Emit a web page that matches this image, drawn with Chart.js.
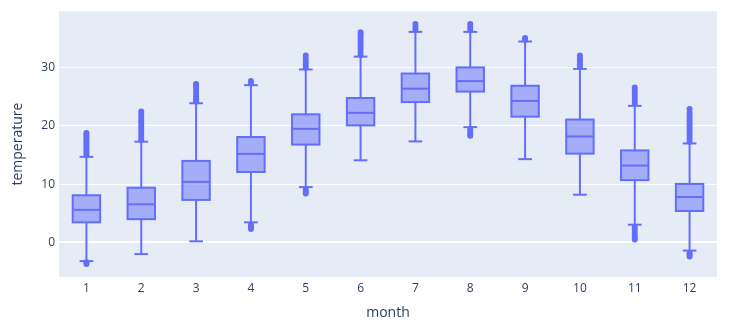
<!DOCTYPE html>
<html>
<head>
<meta charset="utf-8">
<script src="https://cdn.jsdelivr.net/npm/chart.js@4"></script>
<style>
  html, body { margin: 0; padding: 0; background: #fff; }
  #wrap { width: 747px; height: 329px; }
</style>
</head>
<body>
<div id="wrap"><canvas id="chart"></canvas></div>
<script>
// temperature distribution by month
const months = ['1', '2', '3', '4', '5', '6', '7', '8', '9', '10', '11', '12'];
const q1 = [3.45, 4.0, 7.3, 12.1, 16.8, 20.1, 24.1, 25.9, 21.6, 15.25, 10.7, 5.4];
const medians = [5.6, 6.55, 10.4, 15.2, 19.5, 22.25, 26.4, 27.7, 24.3, 18.2, 13.2, 7.8];
const q3 = [8.1, 9.4, 14.0, 18.1, 22.0, 24.8, 29.0, 30.05, 26.9, 21.1, 15.8, 10.05];
const lowerFence = [-3.2, -2.0, 0.2, 3.45, 9.5, 14.1, 17.35, 19.8, 14.3, 8.2, 3.05, -1.4];
const upperFence = [14.7, 17.3, 23.9, 27.0, 29.7, 31.9, 36.15, 36.15, 34.5, 29.8, 23.45, 17.0];
const outliers = [
  [15.0, 15.4, 15.8, 16.2, 16.6, 17.0, 17.4, 17.8, 18.2, 18.5, 18.8, -3.4, -3.7],
  [17.6, 18.0, 18.5, 19.0, 19.5, 20.0, 20.5, 21.0, 21.5, 22.0, 22.5],
  [24.2, 24.6, 25.0, 25.5, 26.0, 26.5, 27.0, 27.2],
  [27.4, 27.7, 3.0, 2.6, 2.3],
  [30.0, 30.5, 31.0, 31.5, 32.1, 9.1, 8.7, 8.4],
  [32.2, 32.7, 33.2, 33.7, 34.2, 34.7, 35.2, 35.7, 36.1],
  [36.5, 37.0, 37.5],
  [36.5, 37.0, 37.5, 19.4, 19.0, 18.6, 18.3],
  [34.8, 35.1],
  [30.1, 30.6, 31.1, 31.6, 32.1],
  [23.8, 24.3, 24.8, 25.3, 25.8, 26.2, 26.6, 2.7, 2.2, 1.7, 1.2, 0.8, 0.5],
  [17.3, 17.8, 18.3, 18.8, 19.3, 19.8, 20.3, 20.8, 21.3, 21.8, 22.3, 22.9, -1.8, -2.1, -2.4]
];
const yTicks = [0, 10, 20, 30];

const BLUE = '#636efa';
const FONT = '"Open Sans", verdana, arial, sans-serif';
const TEXT = '#2a3f5f';

const outlierPoints = [];
outliers.forEach((vals, i) => vals.forEach(v => outlierPoints.push({ x: months[i], y: v })));

// plot background
const plotBg = {
  id: 'plotBg',
  beforeDraw(chart) {
    const { ctx, chartArea: a } = chart;
    ctx.save();
    ctx.fillStyle = '#E5ECF6';
    ctx.fillRect(a.left, a.top, a.right - a.left, a.bottom - a.top);
    ctx.restore();
  }
};

// box outline, whiskers, caps and median lines
const boxParts = {
  id: 'boxParts',
  afterDatasetsDraw(chart) {
    const { ctx } = chart;
    const xs = chart.scales.x, ys = chart.scales.y;
    const meta = chart.getDatasetMeta(0);
    ctx.save();
    ctx.strokeStyle = BLUE;
    ctx.lineWidth = 2;
    months.forEach((m, i) => {
      const bar = meta.data[i];
      const cx = xs.getPixelForValue(i);
      const half = bar.width / 2;
      const cap = half / 2;
      const line = (x1, y1, x2, y2) => {
        ctx.beginPath(); ctx.moveTo(x1, y1); ctx.lineTo(x2, y2); ctx.stroke();
      };
      const yq1 = ys.getPixelForValue(q1[i]);
      const yq3 = ys.getPixelForValue(q3[i]);
      const yHi = ys.getPixelForValue(upperFence[i]);
      const yLo = ys.getPixelForValue(lowerFence[i]);
      const yMed = ys.getPixelForValue(medians[i]);
      ctx.strokeRect(cx - half, yq3, half * 2, yq1 - yq3);
      line(cx, yq3, cx, yHi);
      line(cx, yq1, cx, yLo);
      line(cx - cap, yHi, cx + cap, yHi);
      line(cx - cap, yLo, cx + cap, yLo);
      line(cx - half, yMed, cx + half, yMed);
    });
    ctx.restore();
  }
};

new Chart(document.getElementById('chart'), {
  type: 'bar',
  data: {
    labels: months,
    datasets: [
      {
        label: 'box',
        data: months.map((_, i) => [q1[i], q3[i]]),
        backgroundColor: 'rgba(99,110,250,0.5)',
        borderWidth: 0,
        barPercentage: 0.5,
        categoryPercentage: 1
      },
      {
        type: 'line',
        label: 'outliers',
        data: outlierPoints,
        showLine: false,
        pointRadius: 3,
        pointBackgroundColor: BLUE,
        pointBorderWidth: 0
      }
    ]
  },
  options: {
    responsive: true,
    maintainAspectRatio: false,
    animation: false,
    layout: { padding: { top: 8, right: 30, left: 0, bottom: 0 } },
    plugins: { legend: { display: false }, tooltip: { enabled: false } },
    scales: {
      x: {
        offset: true,
        grid: { display: false, drawTicks: false },
        border: { display: false },
        ticks: { color: TEXT, font: { family: FONT, size: 12 }, padding: 4 },
        title: { display: true, text: 'month', color: TEXT, font: { family: FONT, size: 14 }, padding: { top: 0, bottom: 8 } },
        afterFit(scale) { scale.height = 52; }
      },
      y: {
        min: -5.93,
        max: 39.7,
        grid: {
          color: '#ffffff',
          lineWidth: ctx => (ctx.tick && ctx.tick.value === 0 ? 2 : 1),
          drawTicks: false
        },
        border: { display: false },
        afterBuildTicks(scale) { scale.ticks = yTicks.map(v => ({ value: v })); },
        ticks: { color: TEXT, font: { family: FONT, size: 12 }, padding: 4 },
        title: { display: true, text: 'temperature', color: TEXT, font: { family: FONT, size: 14 }, padding: { top: 10, bottom: 0 } },
        afterFit(scale) { scale.width = 59; }
      }
    }
  },
  plugins: [plotBg, boxParts]
});
</script>
</body>
</html>
